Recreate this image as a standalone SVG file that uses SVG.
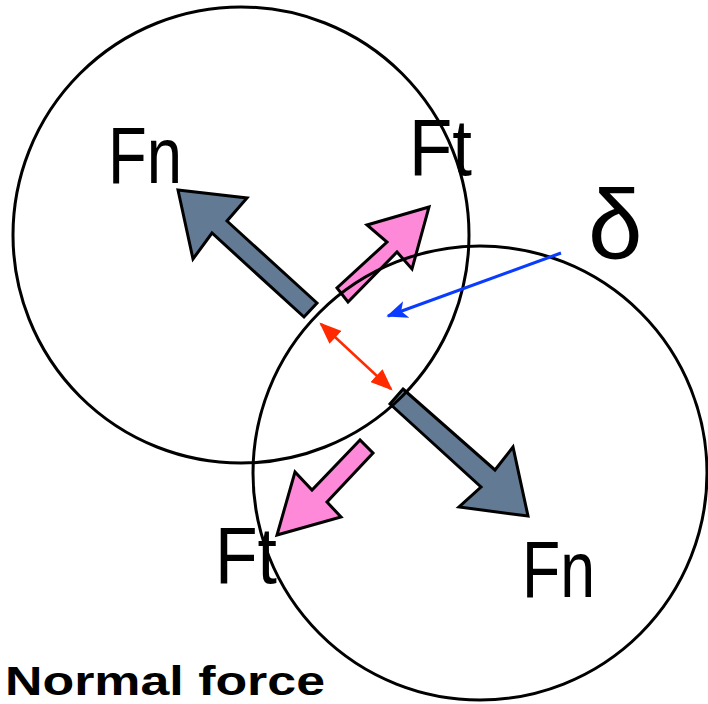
<svg xmlns="http://www.w3.org/2000/svg" width="708" height="704" viewBox="0 0 708 704">
<style>
.lbl{font-family:"Liberation Sans",Arial,sans-serif;font-size:80px;fill:#000}
.gray{fill:#627a94;stroke:#000;stroke-width:3;stroke-linejoin:miter}
.pink{fill:#ff89d9;stroke:#000;stroke-width:3;stroke-linejoin:miter}
.circ{fill:none;stroke:#000;stroke-width:3}
</style>
<defs>
<marker id="redHead" viewBox="0 0 10 8" refX="9" refY="4" markerWidth="9" markerHeight="7" orient="auto-start-reverse" markerUnits="strokeWidth">
<path d="M0,0 L10,4 L0,8 Z" fill="#ff2a00"/>
</marker>
<marker id="blueHead" viewBox="0 0 12 10" refX="11" refY="5" markerWidth="7" markerHeight="6" orient="auto" markerUnits="strokeWidth">
<path d="M0,0 L12,5 L0,10 L3,5 Z" fill="#0a3cff"/>
</marker>
</defs>
<g id="arrows">
<polygon id="fn-top" class="gray" points="178,190 247,198 227,221 317,303 304,317 212,233 193,259"/>
<polygon id="ft-top" class="pink" points="429,207 367,225 387,242 337,288 348,302 397,252 412,269"/>
<polygon id="fn-bottom" class="gray" points="403,389 495,470 513,447 528,516 459,507 481,487 390,404"/>
<polygon id="ft-bottom" class="pink" points="360,440 312,490 295,472 277,535 341,517 327,502 373,453"/>
</g>
<g id="circle1"><circle class="circ" cx="241" cy="235" r="228"/></g>
<g id="circle2"><circle class="circ" cx="480" cy="473" r="227"/></g>
<g id="connectors">
<line x1="321" y1="324" x2="391" y2="389" stroke="#ff2a00" stroke-width="2.5" marker-start="url(#redHead)" marker-end="url(#redHead)"/>
<line x1="561" y1="253" x2="388" y2="316" stroke="#0a3cff" stroke-width="3" marker-end="url(#blueHead)"/>
</g>
<g id="labels">
<text class="lbl" x="108" y="183" textLength="74" lengthAdjust="spacingAndGlyphs">Fn</text>
<text class="lbl" x="409" y="175" textLength="63" lengthAdjust="spacingAndGlyphs">Ft</text>
<text class="lbl" x="215" y="583" textLength="62" lengthAdjust="spacingAndGlyphs">Ft</text>
<text class="lbl" x="522" y="597" textLength="73" lengthAdjust="spacingAndGlyphs">Fn</text>
<text class="lbl" x="588" y="258" style="font-size:98px">δ</text>
<text x="5" y="695" style="font-family:'Liberation Sans',Arial,sans-serif;font-weight:bold;font-size:40px" textLength="320" lengthAdjust="spacingAndGlyphs">Normal force</text>
</g>
</svg>
